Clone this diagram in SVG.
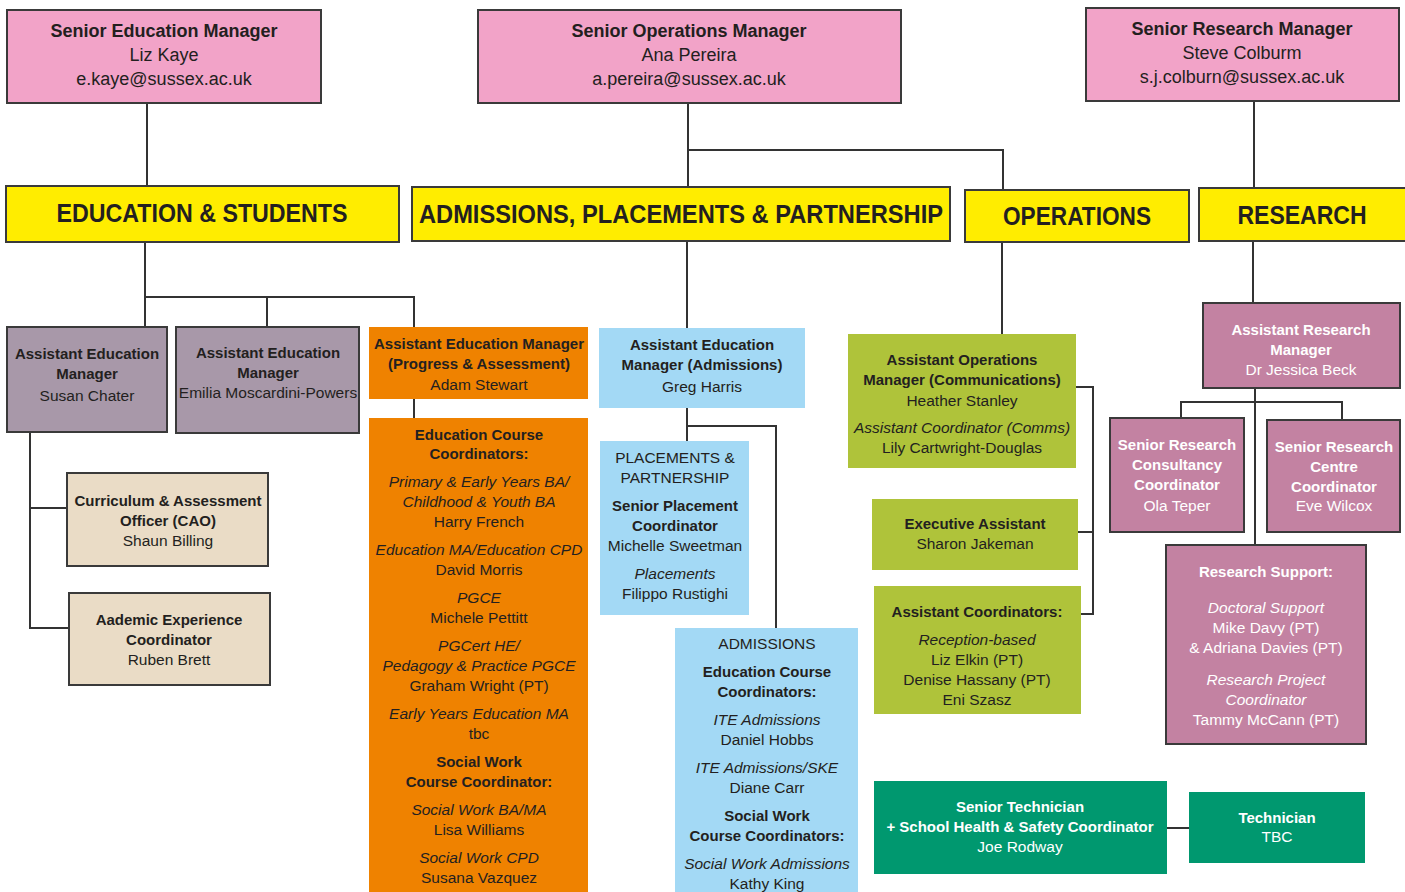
<svg xmlns="http://www.w3.org/2000/svg" width="1405" height="892" viewBox="0 0 1405 892">
<style>
text{font-family:"Liberation Sans",Arial,sans-serif;font-size:15.5px;fill:#231f20;text-anchor:middle}
.b{font-weight:bold;font-size:15px}
.i{font-style:italic}
.big{font-size:18px}
.hd{font-size:25px;font-weight:bold}
.w{fill:#fff}
.pink{fill:#f2a3c8;stroke:#3a3a3a;stroke-width:2}
.yel{fill:#ffed00;stroke:#3a3a3a;stroke-width:2}
.pur{fill:#a898a9;stroke:#3a3a3a;stroke-width:2}
.bei{fill:#eadcc6;stroke:#3a3a3a;stroke-width:2}
.ora{fill:#ef8200}
.blu{fill:#a3d9f5}
.grn{fill:#afc33a}
.mau{fill:#c382a2;stroke:#3a3a3a;stroke-width:2}
.tea{fill:#00986f}
.c{fill:none;stroke:#333;stroke-width:2}
</style>
<g id="connectors">
<path class="c" d="M147 103V187"/>
<path class="c" d="M688 103V187M688 150H1003V190"/>
<path class="c" d="M1254 101V188"/>
<path class="c" d="M145 242V327M145 297H414V327M267 297V327"/>
<path class="c" d="M414 399V418"/>
<path class="c" d="M30 432V628H69M30 508H67"/>
<path class="c" d="M687 241V328"/>
<path class="c" d="M687 408V441M687 426H776V628"/>
<path class="c" d="M1002 242V334"/>
<path class="c" d="M1076 387H1093V614H1081M1078 532H1093"/>
<path class="c" d="M1253 241V303"/>
<path class="c" d="M1255 388V545M1181 418V402H1342V420"/>
<path class="c" d="M1167 828H1189"/>
</g>
<g id="sem">
<rect class="pink" x="7" y="10" width="314" height="93"/>
<text class="b big" x="164" y="37">Senior Education Manager</text>
<text class="big" x="164" y="61">Liz Kaye</text>
<text class="big" x="164" y="85">e.kaye@sussex.ac.uk</text>
</g>
<g id="som">
<rect class="pink" x="478" y="10" width="423" height="93"/>
<text class="b big" x="689" y="37">Senior Operations Manager</text>
<text class="big" x="689" y="61">Ana Pereira</text>
<text class="big" x="689" y="85">a.pereira@sussex.ac.uk</text>
</g>
<g id="srm">
<rect class="pink" x="1086" y="8" width="313" height="93"/>
<text class="b big" x="1242" y="35">Senior Research Manager</text>
<text class="big" x="1242" y="59">Steve Colburm</text>
<text class="big" x="1242" y="83">s.j.colburn@sussex.ac.uk</text>
</g>
<g id="h-edu">
<rect class="yel" x="6" y="186" width="393" height="56"/>
<text class="hd" x="202" y="222" textLength="291" lengthAdjust="spacingAndGlyphs">EDUCATION &amp; STUDENTS</text>
</g>
<g id="h-adm">
<rect class="yel" x="412" y="187" width="538" height="54"/>
<text class="hd" x="681" y="223" textLength="524" lengthAdjust="spacingAndGlyphs">ADMISSIONS, PLACEMENTS &amp; PARTNERSHIP</text>
</g>
<g id="h-ops">
<rect class="yel" x="965" y="190" width="224" height="52"/>
<text class="hd" x="1077" y="225" textLength="148" lengthAdjust="spacingAndGlyphs">OPERATIONS</text>
</g>
<g id="h-res">
<rect class="yel" x="1199" y="188" width="210" height="53"/>
<text class="hd" x="1302" y="224" textLength="129" lengthAdjust="spacingAndGlyphs">RESEARCH</text>
</g>
<g id="susan">
<rect class="pur" x="7" y="327" width="160" height="105"/>
<text class="b" x="87" y="359">Assistant Education</text>
<text class="b" x="87" y="379">Manager</text>
<text x="87" y="401">Susan Chater</text>
</g>
<g id="emilia">
<rect class="pur" x="176" y="327" width="183" height="106"/>
<text class="b" x="268" y="358">Assistant Education</text>
<text class="b" x="268" y="378">Manager</text>
<text x="268" y="398">Emilia Moscardini-Powers</text>
</g>
<g id="cao">
<rect class="bei" x="67" y="473" width="201" height="93"/>
<text class="b" x="168" y="506">Curriculum &amp; Assessment</text>
<text class="b" x="168" y="526">Officer (CAO)</text>
<text x="168" y="546">Shaun Billing</text>
</g>
<g id="ruben">
<rect class="bei" x="69" y="593" width="201" height="92"/>
<text class="b" x="169" y="625">Aademic Experience</text>
<text class="b" x="169" y="645">Coordinator</text>
<text x="169" y="665">Ruben Brett</text>
</g>
<g id="adam">
<rect class="ora" x="369" y="327" width="219" height="72"/>
<text class="b" x="479" y="349">Assistant Education Manager</text>
<text class="b" x="479" y="369">(Progress &amp; Assessment)</text>
<text x="479" y="390">Adam Stewart</text>
</g>
<g id="edu-coord">
<rect class="ora" x="369" y="418" width="219" height="480"/>
<text class="b" x="479" y="440">Education Course</text>
<text class="b" x="479" y="459">Coordinators:</text>
<text class="i" x="479" y="487">Primary &amp; Early Years BA/</text>
<text class="i" x="479" y="507">Childhood &amp; Youth BA</text>
<text x="479" y="527">Harry French</text>
<text class="i" x="479" y="555">Education MA/Education CPD</text>
<text x="479" y="575">David Morris</text>
<text class="i" x="479" y="603">PGCE</text>
<text x="479" y="623">Michele Pettitt</text>
<text class="i" x="479" y="651">PGCert HE/</text>
<text class="i" x="479" y="671">Pedagogy &amp; Practice PGCE</text>
<text x="479" y="691">Graham Wright (PT)</text>
<text class="i" x="479" y="719">Early Years Education MA</text>
<text x="479" y="739">tbc</text>
<text class="b" x="479" y="767">Social Work</text>
<text class="b" x="479" y="787">Course Coordinator:</text>
<text class="i" x="479" y="815">Social Work BA/MA</text>
<text x="479" y="835">Lisa Williams</text>
<text class="i" x="479" y="863">Social Work CPD</text>
<text x="479" y="883">Susana Vazquez</text>
</g>
<g id="greg">
<rect class="blu" x="599" y="328" width="206" height="80"/>
<text class="b" x="702" y="350">Assistant Education</text>
<text class="b" x="702" y="370">Manager (Admissions)</text>
<text x="702" y="392">Greg Harris</text>
</g>
<g id="placements">
<rect class="blu" x="600" y="441" width="149" height="174"/>
<text x="675" y="463">PLACEMENTS &amp;</text>
<text x="675" y="483">PARTNERSHIP</text>
<text class="b" x="675" y="511">Senior Placement</text>
<text class="b" x="675" y="531">Coordinator</text>
<text x="675" y="551">Michelle Sweetman</text>
<text class="i" x="675" y="579">Placements</text>
<text x="675" y="599">Filippo Rustighi</text>
</g>
<g id="admissions">
<rect class="blu" x="675" y="628" width="183" height="270"/>
<text x="767" y="649">ADMISSIONS</text>
<text class="b" x="767" y="677">Education Course</text>
<text class="b" x="767" y="697">Coordinators:</text>
<text class="i" x="767" y="725">ITE Admissions</text>
<text x="767" y="745">Daniel Hobbs</text>
<text class="i" x="767" y="773">ITE Admissions/SKE</text>
<text x="767" y="793">Diane Carr</text>
<text class="b" x="767" y="821">Social Work</text>
<text class="b" x="767" y="841">Course Coordinators:</text>
<text class="i" x="767" y="869">Social Work Admissions</text>
<text x="767" y="889">Kathy King</text>
</g>
<g id="heather">
<rect class="grn" x="848" y="334" width="228" height="134"/>
<text class="b" x="962" y="365">Assistant Operations</text>
<text class="b" x="962" y="385">Manager (Communications)</text>
<text x="962" y="406">Heather Stanley</text>
<text class="i" x="962" y="433">Assistant Coordinator (Comms)</text>
<text x="962" y="453">Lily Cartwright-Douglas</text>
</g>
<g id="exec">
<rect class="grn" x="872" y="499" width="206" height="71"/>
<text class="b" x="975" y="529">Executive Assistant</text>
<text x="975" y="549">Sharon Jakeman</text>
</g>
<g id="asst-coord">
<rect class="grn" x="874" y="586" width="207" height="128"/>
<text class="b" x="977" y="617">Assistant Coordinators:</text>
<text class="i" x="977" y="645">Reception-based</text>
<text x="977" y="665">Liz Elkin (PT)</text>
<text x="977" y="685">Denise Hassany (PT)</text>
<text x="977" y="705">Eni Szasz</text>
</g>
<g id="jessica">
<rect class="mau" x="1203" y="303" width="197" height="85"/>
<text class="b w" x="1301" y="335">Assistant Research</text>
<text class="b w" x="1301" y="355">Manager</text>
<text class="w" x="1301" y="375">Dr Jessica Beck</text>
</g>
<g id="ola">
<rect class="mau" x="1110" y="418" width="134" height="114"/>
<text class="b w" x="1177" y="450">Senior Research</text>
<text class="b w" x="1177" y="470">Consultancy</text>
<text class="b w" x="1177" y="490">Coordinator</text>
<text class="w" x="1177" y="511">Ola Teper</text>
</g>
<g id="eve">
<rect class="mau" x="1267" y="420" width="133" height="112"/>
<text class="b w" x="1334" y="452">Senior Research</text>
<text class="b w" x="1334" y="472">Centre</text>
<text class="b w" x="1334" y="492">Coordinator</text>
<text class="w" x="1334" y="511">Eve Wilcox</text>
</g>
<g id="research-support">
<rect class="mau" x="1166" y="545" width="200" height="199"/>
<text class="b w" x="1266" y="577">Research Support:</text>
<text class="i w" x="1266" y="613">Doctoral Support</text>
<text class="w" x="1266" y="633">Mike Davy  (PT)</text>
<text class="w" x="1266" y="653">&amp; Adriana Davies (PT)</text>
<text class="i w" x="1266" y="685">Research Project</text>
<text class="i w" x="1266" y="705">Coordinator</text>
<text class="w" x="1266" y="725">Tammy McCann (PT)</text>
</g>
<g id="joe">
<rect class="tea" x="874" y="781" width="293" height="93"/>
<text class="b w" x="1020" y="812">Senior Technician</text>
<text class="b w" x="1020" y="832">+ School Health &amp; Safety Coordinator</text>
<text class="w" x="1020" y="852">Joe Rodway</text>
</g>
<g id="technician">
<rect class="tea" x="1189" y="792" width="176" height="71"/>
<text class="b w" x="1277" y="823">Technician</text>
<text class="w" x="1277" y="842">TBC</text>
</g>
</svg>
